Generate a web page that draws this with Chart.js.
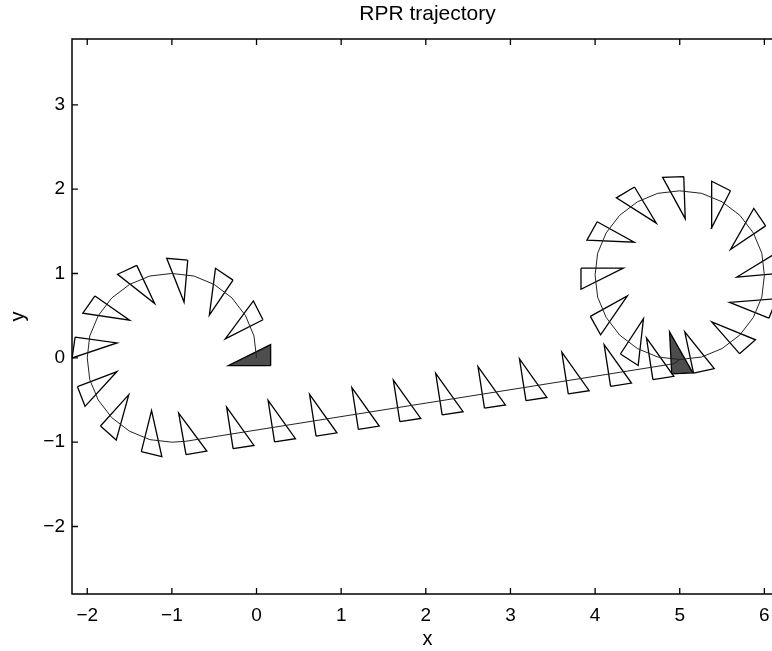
<!DOCTYPE html>
<html>
<head>
<meta charset="utf-8">
<script src="https://cdn.jsdelivr.net/npm/chart.js@4.4.1/dist/chart.umd.min.js"></script>
<style>
  html, body { margin: 0; padding: 0; background: #fff; overflow: hidden; }
  canvas { display: block; }
</style>
</head>
<body>
<canvas id="trajChart" width="783" height="651"></canvas>
<script>
// Path of the robot: first loop, straight run, second loop
const pathX = [0.00, -0.03, -0.13, -0.29, -0.50, -0.74, -1.00, -1.26, -1.50, -1.71, -1.87, -1.97, -2.00,
  -1.97, -1.87, -1.71, -1.50, -1.26, -1.00, -0.84,
  4.93,
  5.00, 5.26, 5.50, 5.71, 5.87, 5.97, 6.00, 5.97, 5.87, 5.71, 5.50, 5.26, 5.00,
  4.74, 4.50, 4.29, 4.13, 4.03, 4.00, 4.03, 4.13, 4.29, 4.50, 4.74, 5.00];
const pathY = [0.00, 0.26, 0.50, 0.71, 0.87, 0.97, 1.00, 0.97, 0.87, 0.71, 0.50, 0.26, 0.00,
  -0.26, -0.50, -0.71, -0.87, -0.97, -1.00, -0.99,
  -0.07,
  -0.02, 0.01, 0.11, 0.27, 0.48, 0.72, 0.98, 1.24, 1.48, 1.69, 1.85, 1.95, 1.98,
  1.95, 1.85, 1.69, 1.48, 1.24, 0.98, 0.72, 0.48, 0.27, 0.11, 0.01, -0.02];

// Outline triangles: centre position and heading (degrees)
const triX = [-0.11, -0.44, -0.91, -1.42, -1.82, -1.99, -1.93, -1.67, -1.24, -0.78,
  -0.22, 0.27, 0.76, 1.26, 1.75, 2.25, 2.75, 3.24, 3.74, 4.24, 4.74,
  5.21, 5.66, 5.93, 6.00, 5.83, 5.45, 4.97, 4.48, 4.13, 4.00, 4.13, 4.46];
const triY = [0.45, 0.83, 1.00, 0.91, 0.57, 0.14, -0.36, -0.74, -0.97, -0.97,
  -0.90, -0.82, -0.75, -0.67, -0.58, -0.50, -0.42, -0.33, -0.25, -0.16, -0.08,
  0.00, 0.23, 0.61, 1.07, 1.54, 1.87, 1.98, 1.84, 1.46, 0.98, 0.50, 0.14];
const triHeading = [117, 146, 175, 205, 235, 262, 291, 318, 346, 10,
  8.8, 8.8, 8.8, 8.8, 8.8, 8.8, 8.8, 8.8, 8.8, 8.8, 8.8,
  12, 41, 68, 95, 124, 153, 182, 211, 241, 270, 299, 327];

// Filled triangles: start and end pose
const solidX = [0.00, 4.98];
const solidY = [-0.01, -0.02];
const solidHeading = [90, 3];

const xTicks = [-2, -1, 0, 1, 2, 3, 4, 5, 6];
const yTicks = [-2, -1, 0, 1, 2, 3];

const TRI_LONG = 0.5, TRI_SHORT = 0.25;

// right triangle: long leg to the left of the heading, short leg along it
function triangleShape(cx, cy, deg) {
  const h = deg * Math.PI / 180;
  const ux = Math.cos(h), uy = Math.sin(h);
  const vx = -uy, vy = ux;
  const c = { x: cx - (TRI_LONG * vx + TRI_SHORT * ux) / 3, y: cy - (TRI_LONG * vy + TRI_SHORT * uy) / 3 };
  const a = { x: c.x + TRI_LONG * vx, y: c.y + TRI_LONG * vy };
  const b = { x: c.x + TRI_SHORT * ux, y: c.y + TRI_SHORT * uy };
  return [c, a, b, c];
}

const minus = v => (v < 0 ? '\u2212' + Math.abs(v) : String(v));

const datasets = [{
  data: pathX.map((x, i) => ({ x, y: pathY[i] })),
  borderColor: '#222',
  borderWidth: 1,
  pointRadius: 0,
  showLine: true,
  fill: false
}];
triX.forEach((x, i) => {
  datasets.push({
    data: triangleShape(x, triY[i], triHeading[i]),
    borderColor: '#000',
    borderWidth: 1.3,
    pointRadius: 0,
    showLine: true,
    fill: false
  });
});
solidX.forEach((x, i) => {
  datasets.push({
    data: triangleShape(x, solidY[i], solidHeading[i]),
    borderColor: '#000',
    backgroundColor: '#4d4d4d',
    borderWidth: 1.3,
    pointRadius: 0,
    showLine: true,
    fill: 'shape'
  });
});

// MATLAB style box with inward ticks on all sides
const frameTicks = {
  id: 'frameTicks',
  afterDraw(chart) {
    const { ctx, chartArea: a, scales: { x, y } } = chart;
    ctx.save();
    ctx.strokeStyle = '#000';
    ctx.lineWidth = 1.5;
    ctx.strokeRect(a.left, a.top, a.right - a.left, a.bottom - a.top);
    ctx.lineWidth = 1.3;
    ctx.beginPath();
    xTicks.forEach(v => {
      const px = x.getPixelForValue(v);
      ctx.moveTo(px, a.bottom); ctx.lineTo(px, a.bottom - 6);
      ctx.moveTo(px, a.top); ctx.lineTo(px, a.top + 6);
    });
    yTicks.forEach(v => {
      const py = y.getPixelForValue(v);
      ctx.moveTo(a.left, py); ctx.lineTo(a.left + 6, py);
      ctx.moveTo(a.right, py); ctx.lineTo(a.right - 6, py);
    });
    ctx.stroke();
    ctx.restore();
  }
};

const ctx = document.getElementById('trajChart').getContext('2d');
const trajChart = new Chart(ctx, {
  type: 'scatter',
  data: { datasets },
  options: {
    responsive: false,
    animation: false,
    layout: { padding: 0 },
    scales: {
      x: {
        type: 'linear',
        min: -2.18,
        max: 6.22,
        afterBuildTicks: s => { s.ticks = xTicks.map(v => ({ value: v })); },
        afterFit: s => { s.height = 57; },
        grid: { display: false, drawTicks: false },
        border: { display: false },
        ticks: {
          padding: 10,
          color: '#000',
          maxRotation: 0,
          font: { family: 'Liberation Sans', size: 19 },
          callback: minus
        },
        title: {
          display: true,
          text: 'x',
          color: '#000',
          padding: { top: 0, bottom: 0 },
          font: { family: 'Liberation Sans', size: 20 }
        }
      },
      y: {
        type: 'linear',
        min: -2.80,
        max: 3.78,
        afterBuildTicks: s => { s.ticks = yTicks.map(v => ({ value: v })); },
        afterFit: s => { s.width = 72; },
        grid: { display: false, drawTicks: false },
        border: { display: false },
        ticks: {
          padding: 7,
          color: '#000',
          font: { family: 'Liberation Sans', size: 19 },
          callback: minus
        },
        title: {
          display: true,
          text: 'y',
          color: '#000',
          padding: { top: 6, bottom: 0 },
          font: { family: 'Liberation Sans', size: 20 }
        }
      }
    },
    plugins: {
      legend: { display: false },
      tooltip: { enabled: false },
      title: {
        display: true,
        text: 'RPR trajectory',
        color: '#000',
        fullSize: false,
        padding: { top: 2, bottom: 11.8 },
        font: { family: 'Liberation Sans', size: 21, weight: 'normal', lineHeight: 1.2 }
      }
    }
  },
  plugins: [frameTicks]
});
</script>
</body>
</html>
